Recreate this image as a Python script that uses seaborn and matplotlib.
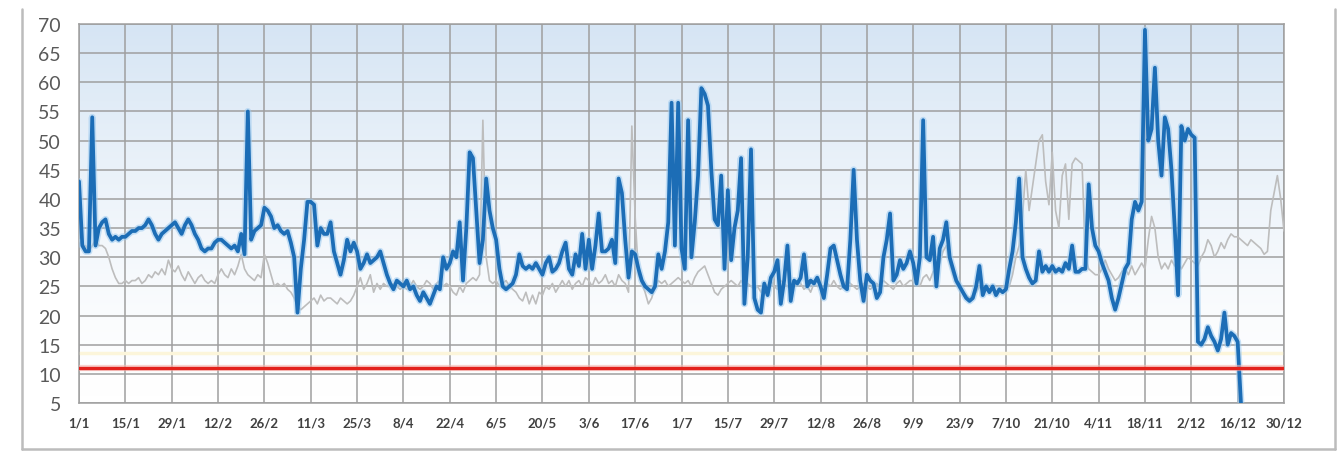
import numpy as np
import pandas as pd
import matplotlib
matplotlib.use("Agg")
import matplotlib.pyplot as plt
import matplotlib.patheffects as pe
from matplotlib.colors import LinearSegmentedColormap
from matplotlib.lines import Line2D
import seaborn as sns

# x tick labels, one every 14 days (leap year, 1/1 .. 30/12)
tick_labels = ["1/1", "15/1", "29/1", "12/2", "26/2", "11/3", "25/3", "8/4", "22/4",
               "6/5", "20/5", "3/6", "17/6", "1/7", "15/7", "29/7", "12/8", "26/8",
               "9/9", "23/9", "7/10", "21/10", "4/11", "18/11", "2/12", "16/12", "30/12"]

threshold = 11

# main (blue) daily series, fortnight by fortnight
blue_vals = [
    43, 32, 31, 31, 54, 32, 35, 36, 36.5, 34, 33, 33.5, 33, 33.5,
    33.5, 34, 34.5, 34.5, 35, 35, 35.5, 36.5, 35.5, 34, 33, 34, 34.5, 35,
    35.5, 36, 35, 34, 35.5, 36.5, 35.5, 34, 33, 31.5, 31, 31.5, 31.5, 32.5,
    33, 33, 32.5, 32, 31.5, 32, 31, 34, 30.5, 55, 33, 34.5, 35, 35.5,
    38.5, 38, 37, 35, 35.5, 34.5, 34, 34.5, 32.5, 30, 20.5, 28, 33, 39.5,
    39.5, 39, 32, 35, 34, 34, 36, 31, 29, 27, 29.5, 33, 31, 32.5,
    31, 28, 29, 30.5, 29, 29.5, 30, 31, 29, 27, 25.5, 24.5, 26, 25.5,
    25, 26, 24.5, 25, 23.5, 22.5, 24, 23, 22, 23.5, 25, 24.5, 30, 28,
    29, 31, 30, 36, 26, 35, 48, 47, 38, 29, 33, 43.5, 38, 35,
    33, 28, 25, 24.5, 25, 25.5, 27, 30.5, 28.5, 28, 28.5, 28, 29, 28,
    27, 29, 30, 27.5, 28, 29, 31, 32.5, 28, 27, 30.5, 28.5, 34, 28,
    33, 28, 32, 37.5, 31, 31, 31.5, 33, 29, 43.5, 41, 33, 26.5, 31,
    30.5, 28, 26, 25, 24.5, 24, 25, 30.5, 28, 31, 36, 56.5, 32, 56.5,
    31.5, 28, 53.5, 30, 36, 44, 59, 58, 56, 45, 36.5, 35.5, 44, 28,
    41.5, 29.5, 35, 38, 47, 22, 30, 48.5, 23, 21, 20.5, 25.5, 23.5, 26.5,
    27.5, 29.5, 22, 26, 32, 22.5, 26, 25.5, 26.5, 30.5, 25, 26, 25.5, 26.5,
    25, 23, 27, 31.5, 32, 29.5, 27, 25, 24.5, 33, 45, 33, 26, 22.5,
    27, 26, 25.5, 23, 24, 30, 33, 37.5, 26, 27, 29.5, 28, 29, 31,
    29, 25.5, 30, 53.5, 30, 29.5, 33.5, 25, 31.5, 33, 36, 30, 28, 26,
    25, 24, 23, 22.5, 23, 25, 28.5, 23.5, 25, 24, 25, 23.5, 24.5, 24,
    24.5, 28, 31, 36, 43.5, 30, 28, 26.5, 25.5, 26, 31, 27.5, 28.5, 27.5,
    28.5, 27.5, 28, 27.5, 29, 28, 32, 27.5, 27.5, 28, 28, 42.5, 35, 32,
    31, 29, 27.5, 26, 23, 21, 23, 25.5, 28, 29, 36.5, 39.5, 38, 39.5,
    69, 50, 52, 62.5, 50, 44, 54, 52, 45, 35, 23.5, 52.5, 50, 52,
    51, 50.5, 15.5, 15, 16, 18, 16.5, 15.5, 14, 16, 20.5, 15, 17, 16.5, 15.5, 5,
]

# comparison (grey) daily series
gray_vals = [
    33, 32, 32, 31, 32, 33, 32, 32, 31.5, 30, 28, 26.5, 25.5, 25.5,
    26, 25.5, 26, 26, 26.5, 25.5, 26, 27, 26.5, 27.5, 27, 28, 27, 29.5,
    28, 27.5, 28.5, 27, 26, 27.5, 26.5, 25.5, 26.5, 27, 26, 25.5, 26, 25.5,
    27, 28, 27, 26.5, 28, 27, 28.5, 30.5, 28, 27, 26.5, 26, 27, 26.5,
    30.5, 29, 27, 25, 25.5, 25, 25.5, 24.5, 24, 23, 21.5, 21, 21.5, 22,
    22.5, 23, 22, 23.5, 22.5, 23, 23, 22.5, 22, 23, 22.5, 22, 22.5, 23.5,
    25, 26.5, 24.5, 25.5, 27, 24, 25.5, 24.5, 25.5, 25, 25, 25.5, 25, 24.5,
    25, 24.5, 25, 26, 25, 24.5, 25, 26, 25.5, 24.5, 25.5, 26, 25, 25.5,
    25, 24, 23.5, 25, 24, 25.5, 26, 26.5, 26, 27, 53.5, 30, 26, 25.5,
    26, 25, 25.5, 26, 25, 24.5, 24, 23, 22.5, 24, 22, 23.5, 22, 24,
    23.5, 25, 24.5, 25.5, 24, 25, 26, 25, 26, 24.5, 25.5, 26, 25, 26.5,
    26, 25, 26.5, 25.5, 26, 27, 25.5, 26, 25, 27, 26, 25.5, 24, 52.5,
    37, 27, 25.5, 24, 22, 23, 25, 26, 25.5, 26, 25, 25.5, 26, 26.5,
    26, 25.5, 26, 25, 26.5, 27.5, 28, 28.5, 27, 25.5, 24, 23.5, 24.5, 25,
    25.5, 26, 25.5, 25, 26, 25, 25.5, 25, 24.5, 25, 24, 25.5, 25, 26,
    25, 24.5, 26, 25.5, 25, 24.5, 25, 26, 25.5, 24.5, 25, 24, 25.5, 25,
    25, 24, 25.5, 25, 26, 25, 24.5, 25, 26, 25.5, 25, 24.5, 25, 25.5,
    25, 24.5, 25, 25.5, 25, 26, 25.5, 25, 24.5, 25.5, 26, 25, 25.5, 26,
    26, 25.5, 25, 26.5, 27, 26, 27.5, 28, 29, 31, 32, 29, 27, 25.5,
    24.5, 24, 23.5, 23, 23.5, 24, 25, 24, 24.5, 24, 24.5, 24, 24.5, 25,
    24.5, 25, 27, 30, 32, 37, 45, 38, 42, 46, 50, 51, 43, 39,
    48, 38, 35, 44, 46, 36.5, 46, 47, 46.5, 46, 30, 28, 27.5, 27,
    27, 28, 29.5, 28, 27, 26, 26.5, 27.5, 28, 27, 28.5, 27, 28, 29,
    28, 33, 37, 35, 30, 28, 29, 28, 29.5, 28.5, 29, 28, 29, 30,
    29.5, 29, 28.5, 30, 31, 33, 32, 30, 31, 32.5, 31.5, 33, 34, 33.5,
    33.5, 33, 32.5, 32, 33, 32.5, 32, 31.5, 30.5, 31, 38, 41, 44, 40, 34.5,
]

days = np.arange(len(gray_vals))
blue_full = blue_vals + [np.nan] * (len(gray_vals) - len(blue_vals))
df = pd.DataFrame({"day": days, "blue": blue_full, "gray": gray_vals})

sns.set_style("white")
plt.rcParams["font.family"] = ["Lato", "DejaVu Sans"]

W, H = 1337, 456
fig = plt.figure(figsize=(W / 100, H / 100), dpi=100)
ax = fig.add_axes([79 / W, 1 - 404 / H, (1284 - 79) / W, (404 - 25) / H])

# light blue to white gradient behind the plot area
grad = (np.linspace(1, 0, 256) ** 1.4).reshape(-1, 1)
cmap = LinearSegmentedColormap.from_list("bg", ["#ffffff", "#d6e5f4"])
ax.imshow(grad, aspect="auto", cmap=cmap, extent=[0, 364, 5, 70], zorder=0)

# faint secondary reference line
ax.axhline(13.6, color="#fcf5da", lw=2.5, zorder=2)

sns.lineplot(data=df, x="day", y="gray", color="#bdbdbd", linewidth=1.2, ax=ax, zorder=3)
sns.lineplot(data=df, x="day", y="blue", color="#1c6db6", linewidth=2.7, ax=ax, zorder=4)
ax.lines[-1].set_path_effects([pe.Stroke(linewidth=5, foreground="#9ccaf0", alpha=0.55), pe.Normal()])

red = ax.axhline(threshold, color="#e3211c", lw=2.4, zorder=5)
red.set_path_effects([pe.Stroke(linewidth=4.5, foreground="#f6b5b0", alpha=0.6), pe.Normal()])

ax.set_xlim(0, 364)
ax.set_ylim(5, 70)
ax.set_xticks(range(0, 365, 14))
ax.set_xticklabels(tick_labels)
ax.set_yticks(range(5, 71, 5))
ax.set_xlabel("")
ax.set_ylabel("")

ax.set_axisbelow(True)
ax.grid(True, color="#9f9f9f", lw=1.1)
for s in ax.spines.values():
    s.set_color("#9f9f9f")
    s.set_linewidth(1.1)

ax.tick_params(axis="y", direction="out", length=5, width=1.1, color="#9f9f9f",
               labelsize=14, labelcolor="#595959", pad=8)
ax.tick_params(axis="x", direction="out", length=3, width=1.1, color="#9f9f9f",
               labelsize=9.5, labelcolor="#404040", pad=7)
for t in ax.get_xticklabels():
    t.set_fontweight("bold")

# outer chart frame
frame_kw = dict(transform=fig.transFigure, color="#bcbcbc", lw=1.8)
fig.add_artist(Line2D([22 / W, 22 / W], [1 - 10 / H, 1 - 450 / H], **frame_kw))
fig.add_artist(Line2D([22 / W, 1335 / W], [1 - 450 / H, 1 - 450 / H], **frame_kw))
fig.add_artist(Line2D([1335 / W, 1335 / W], [1 - 10 / H, 1 - 450 / H], **frame_kw))

fig.savefig("out.png", dpi=100)
